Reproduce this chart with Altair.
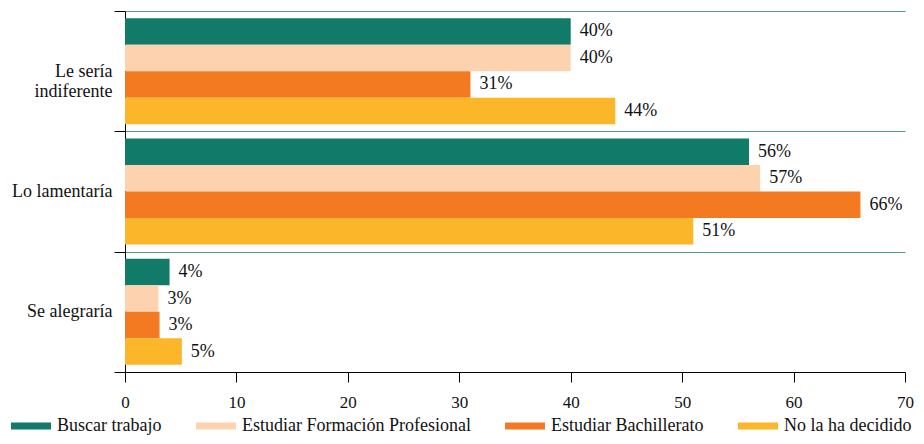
import altair as alt
import pandas as pd

categories = ["Le sería indiferente", "Lo lamentaría", "Se alegraría"]
series = ["Buscar trabajo", "Estudiar Formación Profesional",
          "Estudiar Bachillerato", "No la ha decidido"]
colors = ["#117A69", "#FDD3AF", "#F47A22", "#FBB62A"]

values = {
    "Buscar trabajo": [40, 56, 4],
    "Estudiar Formación Profesional": [40, 57, 3],
    "Estudiar Bachillerato": [31, 66, 3.1],
    "No la ha decidido": [44, 51, 5.1],
}
x_ticks = [0, 10, 20, 30, 40, 50, 60, 70]

rows = []
for s in series:
    for c, v in zip(categories, values[s]):
        rows.append({"cat": c, "serie": s, "val": v, "label": f"{round(v)}%"})
df = pd.DataFrame(rows)

FONT = "Liberation Serif"

y_enc = alt.Y(
    "cat:N", sort=categories, title=None,
    scale=alt.Scale(paddingInner=0, paddingOuter=0),
    axis=alt.Axis(
        tickBand="extent", grid=True, gridColor="#4F9A8A", gridWidth=1,
        domainColor="#000000", tickColor="#000000", tickSize=11,
        labelPadding=2, labelFont=FONT, labelFontSize=18, labelColor="#111111",
        labelLineHeight=20,
        labelExpr="datum.value == 'Le sería indiferente' ? ['Le sería', 'indiferente'] : datum.value",
    ),
)
yoff = alt.YOffset("serie:N", sort=series, scale=alt.Scale(paddingOuter=0.27, paddingInner=0))

base = alt.Chart(df).encode(
    y=y_enc,
    yOffset=yoff,
)

bars = base.mark_bar().encode(
    x=alt.X(
        "val:Q", title=None,
        scale=alt.Scale(domain=[0, 70], nice=False),
        axis=alt.Axis(
            values=x_ticks, grid=False, domainColor="#000000", tickColor="#000000",
            tickSize=10, labelPadding=12, labelFont=FONT, labelFontSize=17,
            labelColor="#111111", labelFlush=False,
        ),
    ),
    color=alt.Color(
        "serie:N", sort=series,
        scale=alt.Scale(domain=series, range=colors),
        legend=alt.Legend(
            title=None, orient="none", direction="horizontal", columns=4,
            legendX=-118, legendY=406, padding=0,
            symbolType="M-1,-0.7L7,-0.7L7,0.7L-1,0.7Z",
            symbolSize=100, symbolStrokeWidth=0,
            labelFont=FONT, labelFontSize=18, labelColor="#111111",
            labelOffset=32, columnPadding=30, labelLimit=400,
        ),
    ),
)

labels = base.mark_text(
    align="left", baseline="middle", dx=9, font=FONT, fontSize=18, color="#111111"
).encode(
    x="val:Q",
    text="label:N",
)

chart = (
    alt.layer(bars, labels)
    .properties(
        width=780, height=361,
        autosize=alt.AutoSizeParams(type="none"),
        padding={"left": 117, "top": 3, "right": 11, "bottom": 64},
    )
    .configure_view(stroke=None)
)

chart.save("out.html", embed_options={"renderer": "svg", "actions": False})
